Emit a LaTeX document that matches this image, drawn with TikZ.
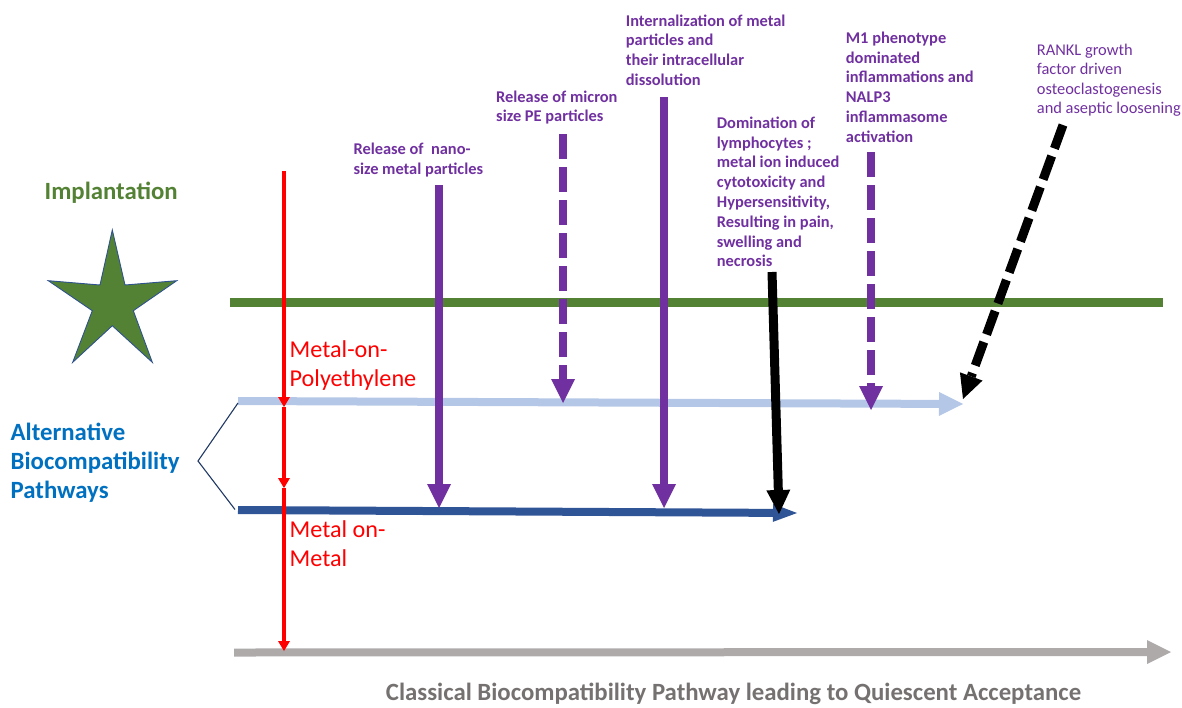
\documentclass[tikz,border=0pt]{standalone}
\usepackage{fontspec}
\setmainfont{Carlito}
\usetikzlibrary{arrows.meta}

\definecolor{implgreen}{RGB}{84,130,53}
\definecolor{starline}{RGB}{47,82,143}
\definecolor{evpurple}{RGB}{112,48,160}
\definecolor{mopblue}{RGB}{180,199,231}
\definecolor{momblue}{RGB}{47,85,151}
\definecolor{bracenavy}{RGB}{32,56,100}
\definecolor{classgray}{RGB}{174,170,170}
\definecolor{classtext}{RGB}{118,113,113}
\definecolor{altblue}{RGB}{0,112,192}
\definecolor{metalred}{RGB}{255,0,0}

% left-aligned stack of lines whose baseline is the first line
\newcommand{\txtstack}[1]{\begin{tabular}[t]{@{}l@{}}#1\end{tabular}}

\begin{document}
\begin{tikzpicture}[x=1pt,y=-1pt,
  evlabel/.style={anchor=base west, inner sep=0pt, text=evpurple,
    font=\fontsize{16.4}{19.8}\selectfont\bfseries},
  biglabel/.style={anchor=base west, inner sep=0pt,
    font=\fontsize{24.2}{29.3}\selectfont},
  boldlabel/.style={anchor=base west, inner sep=0pt,
    font=\fontsize{24.8}{29.3}\selectfont\bfseries},
  bigtip/.style={-{Triangle[length=24pt,width=#1,line width=0pt]}},
  bigtip/.default=24pt,
  pathway/.style={line width=8pt, bigtip=#1},
  pathway/.default=24pt,
  event/.style={line width=8pt, draw=evpurple, bigtip},
  blackevent/.style={line width=9pt, draw=black, bigtip},
  dashev/.style={dash pattern=on 25pt off 8pt},
  redpath/.style={line width=3.8pt, draw=metalred,
    -{Triangle[length=10pt,width=12pt,line width=0pt]}},
]
\useasboundingbox (0,0) rectangle (1182,707);

% implantation star and title
\fill[implgreen, draw=starline, line width=0.9pt]
  (112.3,230) -- (125,285) -- (176.7,280.7) -- (133.3,310.7) -- (152.3,362.3)
  -- (112.3,325.7) -- (72.7,362.3) -- (92.3,310.7) -- (48.3,280.7) -- (100,285) -- cycle;
\node[boldlabel, text=implgreen] (impl) at (44.5,199.3) {Implantation};

% implantation line
\coordinate (implL) at (230,302.5);
\coordinate (implR) at (1163,302.5);
\draw[implgreen, line width=9pt] (implL) -- (implR);

% pathway arrows
\coordinate (mopL) at (238,401);
\coordinate (mopR) at (963,404);
\coordinate (momL) at (238,510);
\coordinate (momR) at (797,513);
\coordinate (clsL) at (234,652.5);
\coordinate (clsR) at (1171,652);
\draw[mopblue, pathway] (mopL) -- (mopR);
\draw[momblue, pathway=18pt] (momL) -- (momR);
\draw[classgray, pathway] (clsL) -- (clsR);

% brace grouping the two alternative pathways
\coordinate (braceTip) at (198,461);
\draw[bracenavy, line width=1.1pt] (238,403) -- (braceTip) -- (235,509.5);
\node[boldlabel, text=altblue] (alt) at (10.5,440)
  {\txtstack{Alternative\\Biocompatibility\\Pathways}};

% red timeline through the pathways
\coordinate (redTop) at (284,171);
\coordinate (redA) at (284,407);
\coordinate (redB) at (284,488);
\coordinate (redC) at (284,651);
\draw[redpath] (redTop) -- (redA);
\draw[redpath] (redA) -- (redB);
\draw[redpath] (redB) -- (redC);
\node[biglabel, text=metalred] (mop) at (289.5,357.6) {\txtstack{Metal-on-\\Polyethylene}};
\node[biglabel, text=metalred] (mom) at (289.5,537) {\txtstack{Metal on-\\Metal}};

% events
\node[evlabel] (nano) at (353.3,154.3) {\txtstack{Release of\ \ nano-\\size metal particles}};
\node[evlabel] (micron) at (496,102) {\txtstack{Release of micron\\size PE particles}};
\node[evlabel] (intern) at (625.7,26) {\txtstack{Internalization of metal\\particles and\\their intracellular\\dissolution}};
\node[evlabel] (lympho) at (716.7,128.3) {\txtstack{Domination of\\lymphocytes ;\\metal ion induced\\cytotoxicity and\\Hypersensitivity,\\Resulting in pain,\\swelling and\\necrosis}};
\node[evlabel] (mone) at (845.7,43.3) {\txtstack{M1 phenotype\\dominated\\inflammations and\\NALP3\\inflammasome\\activation}};
\node[evlabel, font=\fontsize{16.4}{19.5}\selectfont] (rankl) at (1036.7,55)
  {\txtstack{RANKL growth\\factor driven\\osteoclastogenesis\\and aseptic loosening}};

\coordinate (nanoS) at (439,185);   \coordinate (nanoE) at (439,508);
\coordinate (micronS) at (563,134); \coordinate (micronE) at (563,403);
\coordinate (internS) at (664,97);  \coordinate (internE) at (664,508);
\coordinate (lymphoS) at (772,272); \coordinate (lymphoE) at (779,514);
\coordinate (moneS) at (871,152);   \coordinate (moneE) at (871,410);
\coordinate (ranklS) at (1063,125); \coordinate (ranklE) at (963,399);

\draw[event] (nanoS) -- (nanoE);
\draw[event, dashev] (micronS) -- (micronE);
\draw[event] (internS) -- (internE);
\draw[blackevent] (lymphoS) -- (lymphoE);
\draw[event, dashev] (moneS) -- (moneE);
\draw[blackevent, dashev] (ranklS) -- (ranklE);

% classical pathway caption
\node[anchor=base, inner sep=0pt, text=classtext,
  font=\fontsize{24.8}{29}\selectfont\bfseries] (classical) at (733.5,700.5)
  {Classical Biocompatibility Pathway leading to Quiescent Acceptance};
\end{tikzpicture}
\end{document}
